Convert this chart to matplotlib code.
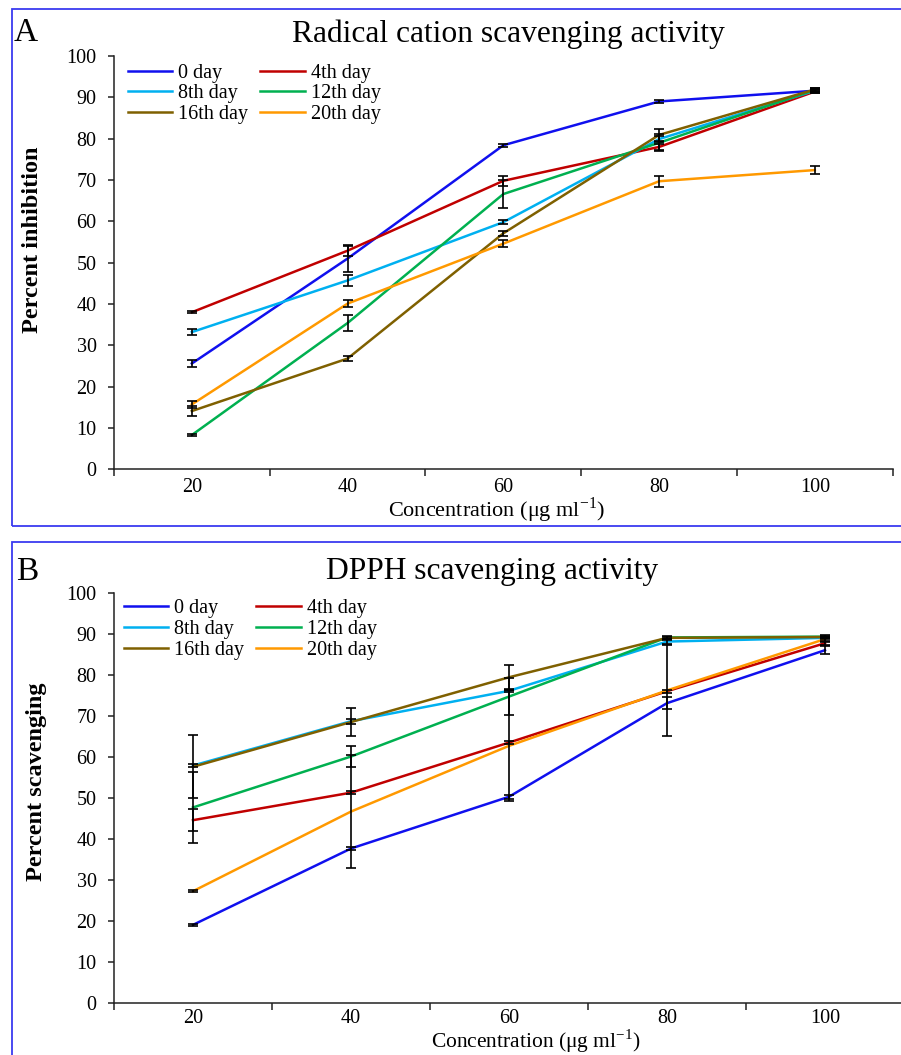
import numpy as np
import matplotlib
matplotlib.use("Agg")
import matplotlib.pyplot as plt
from matplotlib.patches import Rectangle

plt.rcParams['font.family'] = ['Liberation Serif', 'DejaVu Serif']
plt.rcParams['mathtext.fontset'] = 'custom'
plt.rcParams['mathtext.rm'] = 'Liberation Serif'

# ---------------- data ----------------
concentrations = ["20", "40", "60", "80", "100"]
series_labels = ["0 day", "4th day", "8th day", "12th day", "16th day", "20th day"]
series_colors = ["#1010ee", "#c00000", "#00b0f0", "#00b050", "#7f6000", "#ff9900"]

# Panel A: radical cation scavenging (percent inhibition)
a_day0 = [25.6, 51.0, 78.4, 89.0, 91.6]
a_day4 = [38.0, 52.9, 69.8, 78.0, 91.4]
a_day8 = [33.2, 45.7, 59.8, 79.9, 91.6]
a_day12 = [8.3, 35.4, 66.6, 79.0, 91.8]
a_day16 = [14.1, 26.8, 57.1, 80.9, 91.9]
a_day20 = [15.7, 40.1, 54.6, 69.7, 72.4]
a_err0 = [0.9, 3.2, 0.3, 0.3, 0.5]
a_err4 = [0.3, 1.2, 1.2, 0.8, 0.4]
a_err8 = [0.8, 1.3, 0.5, 0.8, 0.4]
a_err12 = [0.3, 2.0, 3.4, 2.1, 0.4]
a_err16 = [1.2, 0.5, 0.6, 1.5, 0.4]
a_err20 = [0.9, 0.9, 0.9, 1.3, 1.0]

# Panel B: DPPH scavenging (percent scavenging)
b_day0 = [19.1, 37.7, 50.3, 73.1, 86.0]
b_day4 = [44.6, 51.3, 63.5, 76.0, 87.7]
b_day8 = [57.9, 68.7, 76.1, 88.1, 89.0]
b_day12 = [47.7, 60.1, 74.7, 89.1, 89.3]
b_day16 = [57.6, 68.5, 79.4, 89.0, 89.2]
b_day20 = [27.3, 46.7, 62.7, 76.2, 88.7]
b_err0 = [0.3, 0.3, 0.5, 1.5, 1.0]
b_err4 = [2.6, 0.3, 0.4, 0.4, 0.4]
b_err8 = [0.4, 0.6, 0.4, 0.5, 0.3]
b_err12 = [8.6, 2.6, 4.5, 0.3, 0.3]
b_err16 = [7.7, 3.3, 3.0, 0.3, 0.3]
b_err20 = [0.3, 13.7, 13.5, 11.0, 0.4]

yticks = [0, 10, 20, 30, 40, 50, 60, 70, 80, 90, 100]

W, H = 901, 1055
fig = plt.figure(figsize=(W / 100, H / 100), dpi=100)


def fx(x):
    return x / W


def fy(y):
    return 1 - y / H


def axes_px(l, t, r, b):
    return fig.add_axes([fx(l), fy(b), (r - l) / W, (b - t) / H])


def style_axes(ax, xpad):
    n = len(concentrations)
    ax.set_xlim(-0.5, n - 0.5)
    ax.set_ylim(0, 100)
    for s in ["top", "right"]:
        ax.spines[s].set_visible(False)
    for s in ["left", "bottom"]:
        ax.spines[s].set_linewidth(1.1)
        ax.spines[s].set_color("#222222")
    ax.set_yticks(yticks)
    ax.set_yticklabels([str(v) for v in yticks])
    ax.tick_params(axis="y", direction="out", length=4.5, width=1.1, pad=8,
                   labelsize=14.5, colors="#222222", labelcolor="black")
    ax.set_xticks(np.arange(-0.5, n, 1.0))
    ax.set_xticklabels([])
    ax.tick_params(axis="x", which="major", direction="out", length=5, width=1.1,
                   colors="#222222")
    ax.set_xticks(np.arange(n), minor=True)
    ax.set_xticklabels(concentrations, minor=True)
    ax.tick_params(axis="x", which="minor", length=0, pad=xpad, labelsize=14.5)


def draw_panel(ax, values, errors):
    x = np.arange(len(concentrations))
    handles = []
    for vals, errs, col, lab in zip(values, errors, series_colors, series_labels):
        h, = ax.plot(x, vals, color=col, lw=1.8, label=lab, zorder=3)
        ax.errorbar(x, vals, yerr=errs, fmt="none", ecolor="black",
                    elinewidth=1.2, capsize=3.8, capthick=1.2, zorder=4)
        handles.append(h)
    return handles


# legend filled row by row (two columns)
leg_order = [0, 2, 4, 1, 3, 5]

# ---------- Panel A ----------
axA = axes_px(114, 56, 892.7, 469.3)
style_axes(axA, 6)
hA = draw_panel(axA,
                [a_day0, a_day4, a_day8, a_day12, a_day16, a_day20],
                [a_err0, a_err4, a_err8, a_err12, a_err16, a_err20])
axA.legend([hA[i] for i in leg_order], [series_labels[i] for i in leg_order],
           ncol=2, frameon=False, loc="upper left",
           bbox_to_anchor=(10 / (892.7 - 114), 1.0 - 4 / 413.3),
           fontsize=14.5, handlelength=2.2, handletextpad=0.3,
           columnspacing=0.6, labelspacing=0.06, borderaxespad=0.0,
           borderpad=0.2)

# ---------- Panel B ----------
axB = axes_px(114, 592.7, 904, 1003.3)
style_axes(axB, 4)
hB = draw_panel(axB,
                [b_day0, b_day4, b_day8, b_day12, b_day16, b_day20],
                [b_err0, b_err4, b_err8, b_err12, b_err16, b_err20])
axB.legend([hB[i] for i in leg_order], [series_labels[i] for i in leg_order],
           ncol=2, frameon=False, loc="upper left",
           bbox_to_anchor=(6 / (904 - 114), 1.0 - 2 / 410.6),
           fontsize=14.5, handlelength=2.2, handletextpad=0.3,
           columnspacing=0.6, labelspacing=0.1, borderaxespad=0.0,
           borderpad=0.2)

# ---------- frames ----------
frame_col = "#3a3af0"
fig.add_artist(Rectangle((fx(12), fy(526)), (910 - 12) / W, (526 - 9) / H,
                         transform=fig.transFigure, fill=False,
                         edgecolor=frame_col, lw=1.3))
fig.add_artist(Rectangle((fx(12), fy(1070)), (910 - 12) / W, (1070 - 542) / H,
                         transform=fig.transFigure, fill=False,
                         edgecolor=frame_col, lw=1.3))

# ---------- texts ----------
xlab = r"Concentration (μg ml$^{\mathregular{-1}}$)"
fig.text(fx(14), fy(41), "A", fontsize=24, ha="left", va="baseline")
fig.text(fx(508), fy(42), "Radical cation scavenging activity", fontsize=22.7,
         ha="center", va="baseline")
fig.text(fx(33), fy(240), "Percent inhibition", fontsize=17.5, fontweight="bold",
         rotation=90, ha="center", va="center")
fig.text(fx(497), fy(517), xlab, fontsize=16, ha="center", va="baseline")

fig.text(fx(16), fy(580), "B", fontsize=24, ha="left", va="baseline")
fig.text(fx(492), fy(579), "DPPH scavenging activity", fontsize=22.7,
         ha="center", va="baseline")
fig.text(fx(37), fy(782), "Percent scavenging", fontsize=17.5, fontweight="bold",
         rotation=90, ha="center", va="center")
fig.text(fx(536), fy(1048), xlab, fontsize=15.5, ha="center", va="baseline")

fig.savefig("out.png", dpi=100)
